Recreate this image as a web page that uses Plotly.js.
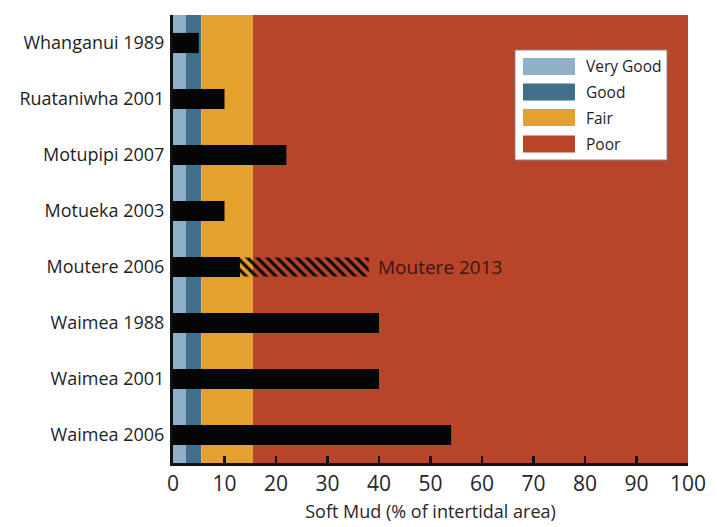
<!DOCTYPE html>
<html><head><meta charset="utf-8">
<script src="https://cdn.plot.ly/plotly-3.0.1.min.js"></script>
<style>html,body{margin:0;padding:0;background:#fff}#chart{width:717px;height:527px}</style>
</head><body><div id="chart"></div>
<script>
// Sites / years (top to bottom)
var sites = ["Whanganui 1989","Ruataniwha 2001","Motupipi 2007","Motueka 2003","Moutere 2006","Waimea 1988","Waimea 2001","Waimea 2006"];
// Soft mud % of intertidal area
var softMud = [5, 10, 22, 10, 13, 40, 40, 54];
// Moutere 2013 (hatched extension)
var moutere2013Site = "Moutere 2006";
var moutere2013Start = 13;
var moutere2013End = 38;
var moutere2013Label = "Moutere 2013";
// Condition bands
var bandNames = ["Very Good","Good","Fair","Poor"];
var bandStart = [0, 2.5, 5.5, 15.5];
var bandEnd = [2.5, 5.5, 15.5, 100];
var bandColors = ["#8fb0c7","#3f6f8b","#e4a12d","#b8442a"];
var xTicks = [0,10,20,30,40,50,60,70,80,90,100];

var L=173, R=688, T=15, B=463, W=717, H=527;
function px2x(px){return (px-L)/(R-L);}
function px2y(py){return (B-py)/(B-T);}

var shapes = [];
for (var i=0;i<bandNames.length;i++){
  shapes.push({type:'rect', xref:'x', yref:'paper', x0:bandStart[i], x1:bandEnd[i], y0:0, y1:1,
    fillcolor:bandColors[i], line:{width:0}, layer:'below'});
}
// custom legend
shapes.push({type:'rect', xref:'paper', yref:'paper', x0:px2x(515), x1:px2x(667), y0:px2y(160), y1:px2y(50),
  fillcolor:'#ffffff', line:{color:'#8a8a8a', width:1}, layer:'above'});
var annotations = [];
var rowY = [66.5, 92, 117.5, 144];
for (var j=0;j<bandNames.length;j++){
  shapes.push({type:'rect', xref:'paper', yref:'paper', x0:px2x(523), x1:px2x(575), y0:px2y(rowY[j]+8.5), y1:px2y(rowY[j]-8.5),
    fillcolor:bandColors[j], line:{width:0}, layer:'above'});
  annotations.push({xref:'paper', yref:'paper', x:px2x(584), y:px2y(rowY[j]), xanchor:'left', yanchor:'middle',
    text:bandNames[j], showarrow:false, font:{family:'Open Sans', size:15.5, color:'#1e1e1e'}});
}
annotations.push({xref:'x', yref:'y', x:moutere2013End+1.5, y:moutere2013Site, xanchor:'left', yanchor:'middle',
  text:moutere2013Label, showarrow:false, font:{family:'Open Sans', size:19, color:'#3a1610'}});

var traces = [
  {type:'bar', orientation:'h', y:sites, x:softMud, width:0.36, marker:{color:'#050505', line:{width:0}}, hoverinfo:'x+y'},
  {type:'bar', orientation:'h', y:[moutere2013Site], x:[moutere2013End-moutere2013Start], base:[moutere2013Start], width:0.34,
   marker:{color:'rgba(0,0,0,0)', line:{width:0}, pattern:{shape:'\\', fgcolor:'#0a0a0a', bgcolor:'rgba(0,0,0,0)', size:7, solidity:0.45}}}
];

var layout = {
  width:W, height:H, showlegend:false, barmode:'overlay',
  margin:{l:L, r:W-R, t:T, b:H-B, pad:0},
  paper_bgcolor:'#ffffff', plot_bgcolor:'#ffffff',
  xaxis:{range:[0,100], tickvals:xTicks, ticks:'inside', ticklen:7, tickwidth:2.5, tickcolor:'#111',
    showline:true, linecolor:'#111', linewidth:3, showgrid:false, zeroline:false,
    tickfont:{family:'Open Sans', size:21, color:'#262626'},
    title:{text:'Soft Mud (% of intertidal area)', font:{family:'Open Sans', size:18, color:'#262626'}, standoff:10}},
  yaxis:{categoryorder:'array', categoryarray:sites, autorange:'reversed', showline:true, linecolor:'#111', linewidth:3,
    ticks:'', showgrid:false, zeroline:false, ticklabelstandoff:2,
    tickfont:{family:'Open Sans', size:18, color:'#1e1e1e'}},
  shapes:shapes, annotations:annotations
};
Plotly.newPlot('chart', traces, layout, {displayModeBar:false, staticPlot:true});
</script></body></html>
